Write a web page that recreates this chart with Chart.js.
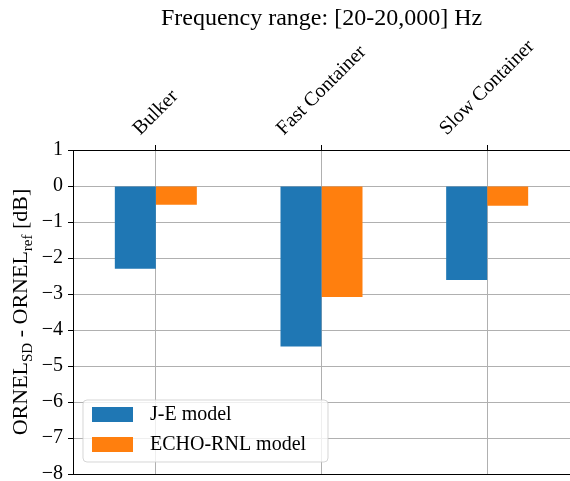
<!DOCTYPE html>
<html>
<head>
<meta charset="utf-8">
<script src="https://cdn.jsdelivr.net/npm/chart.js@4/dist/chart.umd.min.js"></script>
<style>
  html, body { margin: 0; padding: 0; background: #ffffff; }
  #wrap { width: 570px; height: 481px; }
</style>
</head>
<body>
<div id="wrap"><canvas id="c" width="570" height="481"></canvas></div>
<script>
// Ship categories and level differences (dB) for the two models
const categories = ['Bulker', 'Fast Container', 'Slow Container'];
const jeModel = [-2.30, -4.46, -2.61];
const echoModel = [-0.52, -3.08, -0.55];
const seriesNames = ['J-E model', 'ECHO-RNL model'];
const titleText = 'Frequency range: [20-20,000] Hz';
const yMin = -8;
const yMax = 1;

const SERIF = '"Liberation Serif", "DejaVu Serif", serif';
const BLUE = '#1f77b4';
const ORANGE = '#ff7f0e';
const GRID = '#b0b0b0';

// Title, rotated category labels, y-axis label with subscripts, bottom spine and legend
const decorations = {
  id: 'decorations',
  afterDraw(chart) {
    const ctx = chart.ctx;
    const area = chart.chartArea;
    const xs = chart.scales.x;

    ctx.save();
    // bottom spine
    ctx.strokeStyle = '#000000';
    ctx.lineWidth = 1;
    ctx.beginPath();
    ctx.moveTo(area.left, Math.round(area.bottom) + 0.5);
    ctx.lineTo(area.right, Math.round(area.bottom) + 0.5);
    ctx.stroke();

    // title
    ctx.fillStyle = '#000000';
    ctx.font = '24px ' + SERIF;
    ctx.textAlign = 'center';
    ctx.textBaseline = 'alphabetic';
    ctx.fillText(titleText, (area.left + area.right) / 2, 25);

    // category labels, rotated 45 degrees and centred over their tick
    ctx.font = '20px ' + SERIF;
    const fh = 20;
    const bottomY = 139;
    categories.forEach((name, i) => {
      const px = xs.getPixelForValue(i);
      const w = ctx.measureText(name).width;
      const H = (w + fh) / Math.SQRT2;
      ctx.save();
      ctx.translate(px, bottomY - H / 2);
      ctx.rotate(-Math.PI / 4);
      ctx.textAlign = 'center';
      ctx.textBaseline = 'middle';
      ctx.fillText(name, 0, 0);
      ctx.restore();
    });

    // y-axis label: ORNEL_SD - ORNEL_ref [dB]
    const parts = [
      { t: 'ORNEL', size: 22, dy: 0 },
      { t: 'SD', size: 15, dy: 5 },
      { t: ' - ORNEL', size: 22, dy: 0 },
      { t: 'ref', size: 15, dy: 5 },
      { t: ' [dB]', size: 22, dy: 0 }
    ];
    let total = 0;
    parts.forEach(p => {
      ctx.font = p.size + 'px ' + SERIF;
      p.w = ctx.measureText(p.t).width;
      total += p.w;
    });
    ctx.save();
    ctx.translate(27, (area.top + area.bottom) / 2);
    ctx.rotate(-Math.PI / 2);
    ctx.textAlign = 'left';
    ctx.textBaseline = 'alphabetic';
    let cx = -total / 2;
    parts.forEach(p => {
      ctx.font = p.size + 'px ' + SERIF;
      ctx.fillText(p.t, cx, p.dy);
      cx += p.w;
    });
    ctx.restore();

    // legend box in the lower-left corner of the plot
    const bx = area.left + 10;
    const bw = 245;
    const bh = 62;
    const by = area.bottom - 12 - bh;
    const r = 4;
    ctx.beginPath();
    ctx.moveTo(bx + r, by);
    ctx.lineTo(bx + bw - r, by);
    ctx.arcTo(bx + bw, by, bx + bw, by + r, r);
    ctx.lineTo(bx + bw, by + bh - r);
    ctx.arcTo(bx + bw, by + bh, bx + bw - r, by + bh, r);
    ctx.lineTo(bx + r, by + bh);
    ctx.arcTo(bx, by + bh, bx, by + bh - r, r);
    ctx.lineTo(bx, by + r);
    ctx.arcTo(bx, by, bx + r, by, r);
    ctx.closePath();
    ctx.fillStyle = 'rgba(255,255,255,0.8)';
    ctx.fill();
    ctx.strokeStyle = 'rgba(204,204,204,0.8)';
    ctx.lineWidth = 1;
    ctx.stroke();

    ctx.font = '20px ' + SERIF;
    ctx.textAlign = 'left';
    ctx.textBaseline = 'middle';
    chart.data.datasets.forEach((ds, i) => {
      const py = by + 7 + i * 30;
      ctx.fillStyle = ds.backgroundColor;
      ctx.fillRect(bx + 9, py, 41, 15);
      ctx.fillStyle = '#000000';
      ctx.fillText(ds.label, bx + 67, py + 8);
    });
    ctx.restore();
  }
};

new Chart(document.getElementById('c'), {
  type: 'bar',
  data: {
    labels: categories,
    datasets: [
      { label: seriesNames[0], data: jeModel, backgroundColor: BLUE,
        categoryPercentage: 0.495, barPercentage: 1.0 },
      { label: seriesNames[1], data: echoModel, backgroundColor: ORANGE,
        categoryPercentage: 0.495, barPercentage: 1.0 }
    ]
  },
  options: {
    responsive: false,
    animation: false,
    devicePixelRatio: 1,
    layout: { padding: { top: 0, left: 0, right: 0, bottom: 7 } },
    plugins: {
      legend: { display: false },
      tooltip: { enabled: false },
      title: { display: false }
    },
    scales: {
      x: {
        position: 'top',
        offset: true,
        z: 1,
        afterFit(s) {
          s.height = 150;
          s.paddingLeft = 0; s.paddingRight = 0;
          s.paddingTop = 0; s.paddingBottom = 0;
        },
        grid: {
          offset: false,
          color: GRID,
          lineWidth: 1,
          drawTicks: true,
          tickLength: 5,
          tickColor: '#000000',
          tickWidth: 1
        },
        border: { display: true, color: '#000000', width: 1 },
        ticks: { display: false }
      },
      y: {
        min: yMin,
        max: yMax,
        z: 1,
        afterFit(s) {
          s.width = 73;
          s.paddingTop = 0; s.paddingBottom = 0;
          s.paddingLeft = 0; s.paddingRight = 0;
        },
        grid: {
          color: GRID,
          lineWidth: 1,
          drawTicks: true,
          tickLength: 5,
          tickColor: '#000000',
          tickWidth: 1
        },
        border: { display: true, color: '#000000', width: 1 },
        ticks: {
          stepSize: 1,
          padding: 5,
          color: '#000000',
          font: { family: SERIF, size: 20 },
          callback: v => (v < 0 ? '\u2212' + Math.abs(v) : String(v))
        }
      }
    }
  },
  plugins: [decorations]
});
</script>
</body>
</html>
